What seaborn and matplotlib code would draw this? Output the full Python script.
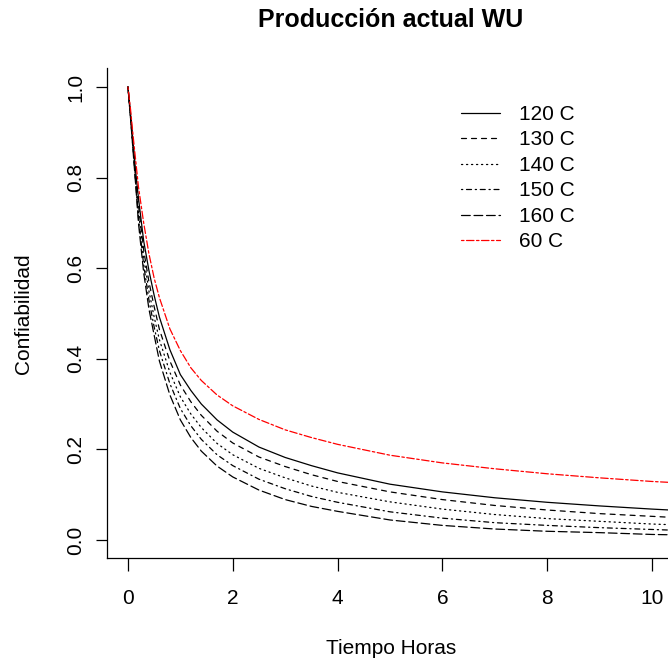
import numpy as np
import pandas as pd
import seaborn as sns
import matplotlib
matplotlib.use("Agg")
import matplotlib.pyplot as plt

# Time grid (hours)
tiempo = [0, 0.05, 0.1, 0.15, 0.2, 0.3, 0.4, 0.5, 0.6, 0.8, 1.0, 1.2, 1.4, 1.7,
          2.0, 2.5, 3, 3.5, 4, 5, 6, 7, 8, 9, 10, 10.5]

# Reliability per temperature
r_120 = [1.0, 0.94, 0.875, 0.81, 0.755, 0.66, 0.595, 0.54, 0.492, 0.42, 0.365, 0.33,
         0.30, 0.265, 0.238, 0.205, 0.182, 0.164, 0.148, 0.123, 0.106, 0.093, 0.083,
         0.075, 0.068, 0.065]
r_130 = [1.0, 0.935, 0.87, 0.80, 0.74, 0.64, 0.57, 0.515, 0.465, 0.395, 0.342, 0.305,
         0.275, 0.24, 0.214, 0.183, 0.162, 0.144, 0.129, 0.106, 0.089, 0.076, 0.066,
         0.058, 0.052, 0.049]
r_140 = [1.0, 0.933, 0.865, 0.79, 0.725, 0.625, 0.55, 0.492, 0.442, 0.37, 0.316, 0.278,
         0.248, 0.213, 0.188, 0.158, 0.137, 0.119, 0.105, 0.084, 0.068, 0.056, 0.047,
         0.041, 0.035, 0.033]
r_150 = [1.0, 0.931, 0.86, 0.785, 0.712, 0.607, 0.53, 0.47, 0.418, 0.345, 0.29, 0.252,
         0.222, 0.188, 0.164, 0.134, 0.113, 0.096, 0.083, 0.062, 0.048, 0.038, 0.032,
         0.027, 0.023, 0.021]
r_160 = [1.0, 0.93, 0.855, 0.78, 0.70, 0.59, 0.51, 0.452, 0.395, 0.32, 0.265, 0.226,
         0.196, 0.163, 0.139, 0.110, 0.089, 0.074, 0.063, 0.044, 0.032, 0.024, 0.019,
         0.016, 0.012, 0.011]
r_60 = [1.0, 0.95, 0.89, 0.835, 0.78, 0.70, 0.632, 0.578, 0.535, 0.466, 0.418, 0.38,
        0.352, 0.32, 0.296, 0.266, 0.243, 0.226, 0.211, 0.187, 0.170, 0.157, 0.146,
        0.137, 0.129, 0.126]

series = ["120 C", "130 C", "140 C", "150 C", "160 C", "60 C"]
valores = [r_120, r_130, r_140, r_150, r_160, r_60]

colores = {"120 C": "black", "130 C": "black", "140 C": "black",
           "150 C": "black", "160 C": "black", "60 C": "#FF0000"}
# R-style line types: solid, dashed, dotted, dotdash, longdash, twodash
trazos = {"120 C": "", "130 C": (4, 4), "140 C": (1, 3), "150 C": (1, 3, 4, 3),
          "160 C": (7, 3), "60 C": (2, 2, 6, 2)}

df = pd.DataFrame({
    "Tiempo": np.tile(tiempo, len(series)),
    "R": np.concatenate(valores),
    "Serie": np.repeat(series, len(tiempo)),
})

sns.set_style("white")
plt.rcParams["font.family"] = ["Liberation Sans", "DejaVu Sans"]
plt.rcParams["lines.dash_capstyle"] = "round"
for k in ["text.color", "axes.labelcolor", "xtick.color", "ytick.color", "axes.edgecolor"]:
    plt.rcParams[k] = "black"

W, H = 668, 665
fig = plt.figure(figsize=(W / 100, H / 100), dpi=100)
left, right, top, bottom = 107, 675, 68, 558
ax = fig.add_axes([left / W, 1 - bottom / H, (right - left) / W, (bottom - top) / H])

sns.lineplot(data=df, x="Tiempo", y="R", hue="Serie", style="Serie",
             hue_order=series, style_order=series, palette=colores,
             dashes=trazos, linewidth=0.9, ax=ax, legend=True)

ax.set_xlim(-0.40, 10.44)
ax.set_ylim(-0.04, 1.042)
ax.set_xticks([0, 2, 4, 6, 8, 10])
ax.set_yticks([0.0, 0.2, 0.4, 0.6, 0.8, 1.0])
ax.set_yticklabels(["0.0", "0.2", "0.4", "0.6", "0.8", "1.0"], rotation=90, va="center")

for s in ["top", "right"]:
    ax.spines[s].set_visible(False)
for s in ["left", "bottom"]:
    ax.spines[s].set_color("black")
    ax.spines[s].set_linewidth(0.9)

ax.tick_params(axis="x", direction="out", length=9, width=0.9, color="black",
               labelcolor="black", labelsize=15, pad=13, bottom=True)
ax.tick_params(axis="y", direction="out", length=8, width=0.9, color="black",
               labelcolor="black", labelsize=15, pad=7.5, left=True)

ax.set_title("Producción actual WU", fontsize=18, fontweight="bold", pad=29.5,
             color="black")

ax.set_xlabel("Tiempo Horas", fontsize=15, color="black")
ax.xaxis.label.set_va("center")
ax.xaxis.set_label_coords(391 / W, 1 - 648 / H, transform=fig.transFigure)
ax.set_ylabel("Confiabilidad", fontsize=15, color="black")
ax.yaxis.label.set_va("center")
ax.yaxis.set_label_coords(24 / W, 1 - 314 / H, transform=fig.transFigure)

handles, labels = ax.get_legend_handles_labels()
leg = ax.legend(handles, labels, frameon=False, fontsize=15, handlelength=1.85,
                handletextpad=0.95, labelspacing=0.31, borderpad=0, borderaxespad=0,
                loc="upper left", bbox_to_anchor=(461 / W, 1 - 105 / H),
                bbox_transform=fig.transFigure)
for t in leg.get_texts():
    t.set_color("black")

fig.savefig("out.png", dpi=100)
